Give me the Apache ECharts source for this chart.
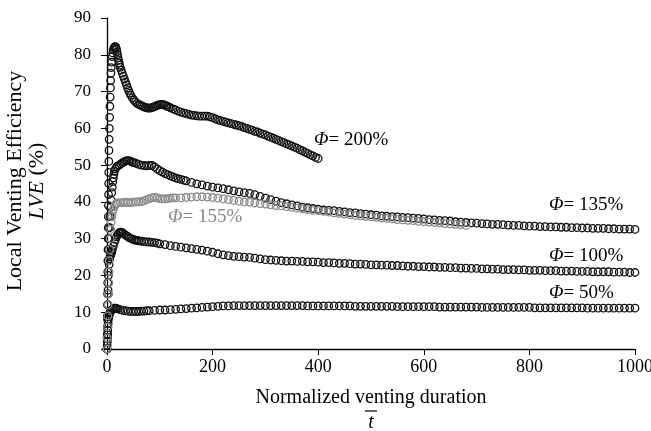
<!DOCTYPE html>
<html><head><meta charset="utf-8">
<script src="https://cdn.jsdelivr.net/npm/echarts@6/dist/echarts.min.js"></script>
<style>html,body{margin:0;padding:0;background:#fff}#c{width:651px;height:431px}</style>
</head><body><div id="c"></div>
<script>
const xAxisRange = [0, 1000, 200];
const yAxisRange = [0, 90, 10];
const seriesNames = ['Φ= 200%', 'Φ= 135%', 'Φ= 155%', 'Φ= 100%', 'Φ= 50%'];

const phi200 = [[0,0],[0.3,3],[0.5,6],[0.7,9],[0.9,12],[1.1,15],[1.3,18],[1.5,21],[1.7,24],[1.9,27],[2.1,30],[2.3,33],[2.5,36],[2.7,39],[2.9,42],[3.1,45],[3.3,48],[3.5,51],[3.8,54],[4.1,57],[4.5,60],[5,63],[5.5,66],[6,68.5],[6.5,71],[7,73],[7.5,75],[8,76.5],[9,78],[10,79.5],[11,80.5],[12,81.3],[13,81.8],[14,82],[15,82.2],[16,82.2],[17,82],[18,81.5],[19,80.8],[20,80],[21,79.2],[22,78.5],[23,77.8],[24,77.2],[25,76.6],[27,75.8],[29,75],[31,74.2],[33,73.4],[35,72.6],[37,71.8],[39,71],[41,70.3],[43,69.6],[45,69],[48,68.3],[51,67.7],[54,67.2],[57,66.8],[60,66.5],[63,66.3],[66,66.1],[69,65.9],[72,65.7],[75,65.6],[78,65.5],[81,65.5],[84,65.6],[87,65.7],[90,65.9],[93,66.1],[96,66.3],[99,66.4],[102,66.5],[105,66.5],[108,66.4],[111,66.2],[114,66],[117,65.8],[120,65.6],[125,65.3],[130,65],[135,64.7],[140,64.4],[145,64.2],[150,64],[155,63.8],[160,63.6],[165,63.5],[170,63.4],[175,63.3],[180,63.3],[185,63.3],[190,63.3],[195,63.1],[200,62.9],[205,62.6],[210,62.3],[215,62.1],[220,61.9],[225,61.7],[230,61.5],[235,61.3],[240,61.1],[245,60.9],[250,60.7],[255,60.5],[260,60.2],[265,60],[270,59.7],[275,59.5],[280,59.2],[285,59],[290,58.7],[295,58.4],[300,58.2],[305,57.9],[310,57.6],[315,57.3],[320,57],[325,56.7],[330,56.4],[335,56.1],[340,55.8],[345,55.5],[350,55.2],[355,54.9],[360,54.6],[365,54.2],[370,53.9],[375,53.5],[380,53.2],[385,52.8],[390,52.5],[395,52.1],[400,51.8]];

const phi135 = [[0,0],[0.5,4],[1,8],[1.5,12],[2,16],[2.5,20],[3,24],[3.5,27],[4,30],[5,33],[6,36],[7,38.5],[8,40.5],[9,42.5],[10,44],[11,45.5],[12,46.5],[13,47.5],[14,48.3],[16,49],[18,49.5],[20,49.7],[23,50],[26,50.3],[29,50.6],[32,50.9],[35,51.1],[38,51.2],[41,51.2],[44,51.1],[47,50.9],[50,50.7],[55,50.5],[60,50.2],[65,50],[70,49.9],[75,49.8],[80,49.9],[85,49.9],[90,49.5],[95,49],[100,48.5],[105,48.1],[110,47.7],[115,47.4],[120,47.1],[125,46.8],[130,46.5],[135,46.3],[140,46.1],[145,45.9],[150,45.7],[160,45.3],[170,44.9],[180,44.6],[190,44.3],[200,44],[210,43.8],[220,43.6],[230,43.3],[240,43],[250,42.7],[260,42.5],[270,42.3],[280,42],[290,41.5],[300,41],[310,40.6],[320,40.2],[330,39.8],[340,39.5],[350,39.2],[360,38.9],[370,38.6],[380,38.4],[390,38.2],[400,38],[410,37.8],[420,37.7],[430,37.6],[440,37.4],[450,37.3],[460,37.1],[470,37],[480,36.8],[490,36.7],[500,36.5],[510,36.4],[520,36.2],[530,36.1],[540,36],[550,35.9],[560,35.8],[570,35.7],[580,35.6],[590,35.5],[600,35.4],[610,35.2],[620,35.1],[630,35],[640,34.9],[650,34.8],[660,34.6],[670,34.5],[680,34.4],[690,34.3],[700,34.2],[710,34.1],[720,34],[730,33.9],[740,33.9],[750,33.8],[760,33.7],[770,33.6],[780,33.6],[790,33.5],[800,33.4],[810,33.4],[820,33.3],[830,33.3],[840,33.2],[850,33.2],[860,33.1],[870,33.1],[880,33],[890,33],[900,32.9],[910,32.9],[920,32.8],[930,32.8],[940,32.8],[950,32.7],[960,32.7],[970,32.6],[980,32.6],[990,32.6],[1000,32.5]];

const phi155 = [[0,0],[0.5,3],[1,6],[1.5,9],[2,12],[2.5,15],[3,18],[3.5,21],[4,24],[5,27],[6,30],[7,32.5],[8,34.5],[9,36],[10,37],[12,38],[14,38.8],[16,39.3],[18,39.6],[20,39.7],[25,39.8],[30,39.8],[35,39.9],[40,39.8],[45,39.8],[50,39.9],[55,40],[60,40],[65,40.1],[70,40.3],[75,40.6],[80,40.9],[85,41.1],[90,41.2],[95,41.1],[100,40.9],[105,40.8],[110,40.8],[115,40.9],[120,41],[125,41.1],[130,41.1],[140,41.1],[150,41.2],[160,41.3],[170,41.4],[180,41.4],[190,41.3],[200,41.2],[210,41],[220,40.8],[230,40.6],[240,40.4],[250,40.2],[260,40],[270,39.9],[280,39.7],[290,39.5],[300,39.4],[310,39.2],[320,39],[330,38.9],[340,38.7],[350,38.5],[360,38.3],[370,38.1],[380,37.9],[390,37.7],[400,37.6],[410,37.4],[420,37.2],[430,37],[440,36.9],[450,36.7],[460,36.5],[470,36.3],[480,36.2],[490,36],[500,35.9],[510,35.8],[520,35.6],[530,35.5],[540,35.4],[550,35.2],[560,35.1],[570,35],[580,34.9],[590,34.7],[600,34.6],[610,34.5],[620,34.4],[630,34.3],[640,34.1],[650,34],[660,33.9],[670,33.8],[680,33.6]];

const phi100 = [[0,0],[0.5,3],[1,6],[1.5,9],[2,12],[2.5,15],[3,18],[3.5,21],[4,23],[5,24.5],[6,25.2],[7,25.6],[8,26],[9,26.5],[10,27],[12,28],[14,29],[16,29.8],[18,30.5],[20,31],[22,31.4],[24,31.7],[26,31.8],[28,31.7],[30,31.5],[33,31.2],[36,30.9],[39,30.6],[42,30.3],[45,30.1],[48,29.9],[51,29.7],[54,29.6],[57,29.5],[60,29.4],[65,29.3],[70,29.2],[75,29.1],[80,29.1],[85,29],[90,28.9],[95,28.8],[100,28.6],[110,28.4],[120,28.1],[130,27.9],[140,27.7],[150,27.5],[160,27.3],[170,27.1],[180,26.9],[190,26.6],[200,26.3],[210,25.9],[220,25.6],[230,25.4],[240,25.2],[250,25.1],[260,25],[270,24.9],[280,24.7],[290,24.5],[300,24.3],[310,24.2],[320,24.1],[330,24],[340,23.9],[350,23.9],[360,23.8],[370,23.8],[380,23.7],[390,23.7],[400,23.6],[410,23.5],[420,23.5],[430,23.4],[440,23.3],[450,23.3],[460,23.2],[470,23.1],[480,23.1],[490,23],[500,22.9],[510,22.9],[520,22.8],[530,22.8],[540,22.7],[550,22.7],[560,22.6],[570,22.5],[580,22.5],[590,22.4],[600,22.4],[610,22.3],[620,22.3],[630,22.2],[640,22.2],[650,22.1],[660,22.1],[670,22],[680,22],[690,21.9],[700,21.9],[710,21.8],[720,21.8],[730,21.7],[740,21.7],[750,21.6],[760,21.6],[770,21.6],[780,21.5],[790,21.5],[800,21.4],[810,21.4],[820,21.4],[830,21.3],[840,21.3],[850,21.3],[860,21.2],[870,21.2],[880,21.2],[890,21.1],[900,21.1],[910,21.1],[920,21],[930,21],[940,21],[950,21],[960,20.9],[970,20.9],[980,20.9],[990,20.8],[1000,20.8]];

const phi50 = [[0,0],[0.3,1],[0.6,2],[0.9,3],[1.2,4],[1.5,5],[1.8,6],[2.2,7],[2.7,8],[3.5,8.8],[4.5,9.4],[5.5,9.8],[6.5,10.1],[8,10.5],[10,10.8],[12,11],[14,11.1],[16,11.1],[18,11],[20,10.9],[25,10.7],[30,10.5],[35,10.4],[40,10.3],[45,10.2],[50,10.2],[55,10.2],[60,10.2],[65,10.3],[70,10.3],[75,10.4],[80,10.4],[90,10.5],[100,10.6],[110,10.6],[120,10.7],[130,10.8],[140,10.9],[150,11],[160,11.1],[170,11.2],[180,11.3],[190,11.4],[200,11.5],[210,11.6],[220,11.7],[230,11.7],[240,11.8],[250,11.8],[260,11.8],[270,11.8],[280,11.8],[290,11.8],[300,11.8],[310,11.8],[320,11.8],[330,11.8],[340,11.8],[350,11.8],[360,11.8],[370,11.8],[380,11.7],[390,11.7],[400,11.7],[410,11.7],[420,11.7],[430,11.7],[440,11.7],[450,11.7],[460,11.7],[470,11.6],[480,11.6],[490,11.6],[500,11.6],[510,11.6],[520,11.6],[530,11.6],[540,11.6],[550,11.5],[560,11.5],[570,11.5],[580,11.5],[590,11.5],[600,11.5],[610,11.5],[620,11.5],[630,11.4],[640,11.4],[650,11.4],[660,11.4],[670,11.4],[680,11.4],[690,11.4],[700,11.4],[710,11.3],[720,11.3],[730,11.3],[740,11.3],[750,11.3],[760,11.3],[770,11.3],[780,11.3],[790,11.3],[800,11.3],[810,11.2],[820,11.2],[830,11.2],[840,11.2],[850,11.2],[860,11.2],[870,11.2],[880,11.2],[890,11.2],[900,11.2],[910,11.1],[920,11.1],[930,11.1],[940,11.1],[950,11.1],[960,11.1],[970,11.1],[980,11.1],[990,11.1],[1000,11.1]];

const FONT = '"Liberation Serif", "Times New Roman", serif';
const BLACK = '#111';
const GRAY = '#8a8a8a';

function sc(name, data, color) {
  return {
    name: name, type: 'scatter', data: data, symbol: 'circle', symbolSize: 7.5,
    itemStyle: { color: 'rgba(255,255,255,0)', borderColor: color, borderWidth: 1.3, opacity: 1 },
    emphasis: { disabled: true }, silent: true
  };
}

const chart = echarts.init(document.getElementById('c'), null, { renderer: 'canvas' });
function lbl(x, y, name, color) {
  const parts = name.split('Φ');
  return {
    type: 'text', x: x, y: y, silent: true,
    style: {
      text: '{i|Φ}' + parts[1], fill: color, font: '19px ' + FONT,
      rich: { i: { fontStyle: 'italic', fontFamily: FONT, fontSize: 19, fill: color, color: color } },
      align: 'left', verticalAlign: 'middle', textAlign: 'left', textVerticalAlign: 'middle'
    }
  };
}

chart.setOption({
  animation: false,
  backgroundColor: '#fff',
  grid: { left: 107, right: 16, top: 18, bottom: 82, containLabel: false, outerBoundsMode: 'none' },
  xAxis: {
    type: 'value', min: xAxisRange[0], max: xAxisRange[1], interval: xAxisRange[2],
    axisLine: { show: true, onZero: false, lineStyle: { color: '#000', width: 1.3 } },
    axisTick: { show: true, inside: false, length: 6, lineStyle: { color: '#000', width: 1 } },
    axisLabel: { color: '#000', fontFamily: FONT, fontSize: 18, margin: 9, formatter: function (v) { return String(v); } },
    splitLine: { show: false }
  },
  yAxis: {
    type: 'value', min: yAxisRange[0], max: yAxisRange[1], interval: yAxisRange[2],
    axisLine: { show: true, onZero: false, lineStyle: { color: '#000', width: 1.3 } },
    axisTick: { show: true, inside: false, length: 6, lineStyle: { color: '#000', width: 1 } },
    axisLabel: { color: '#000', fontFamily: FONT, fontSize: 17, margin: 16 },
    splitLine: { show: false }
  },
  series: [
    sc(seriesNames[0], phi200, BLACK),
    sc(seriesNames[1], phi135, BLACK),
    sc(seriesNames[3], phi100, BLACK),
    sc(seriesNames[4], phi50, BLACK),
    sc(seriesNames[2], phi155, GRAY)
  ],
  graphic: [
    lbl(314, 140, seriesNames[0], '#000'),
    lbl(549, 205, seriesNames[1], '#000'),
    lbl(168, 217, seriesNames[2], GRAY),
    lbl(549, 256, seriesNames[3], '#000'),
    lbl(549, 293, seriesNames[4], '#000'),
    { type: 'text', x: 15, y: 181, rotation: Math.PI / 2, silent: true,
      style: { text: 'Local Venting Efficiency', font: '22px ' + FONT, fill: '#000',
        align: 'center', verticalAlign: 'middle', textAlign: 'center', textVerticalAlign: 'middle' } },
    { type: 'text', x: 37, y: 181, rotation: Math.PI / 2, silent: true,
      style: { text: '{i|LVE} (%)', font: '22px ' + FONT, fill: '#000',
        rich: { i: { fontStyle: 'italic', fontFamily: FONT, fontSize: 22 } },
        align: 'center', verticalAlign: 'middle', textAlign: 'center', textVerticalAlign: 'middle' } },
    { type: 'text', x: 371, y: 398, silent: true,
      style: { text: 'Normalized venting duration', font: '20px ' + FONT, fill: '#000',
        align: 'center', verticalAlign: 'middle', textAlign: 'center', textVerticalAlign: 'middle' } },
    { type: 'text', x: 371, y: 423, silent: true,
      style: { text: 't', font: 'italic 20px ' + FONT, fill: '#000',
        align: 'center', verticalAlign: 'middle', textAlign: 'center', textVerticalAlign: 'middle' } },
    { type: 'line', silent: true, shape: { x1: 365, y1: 411, x2: 377, y2: 411 },
      style: { stroke: '#000', lineWidth: 1.2 } }
  ]
});
</script>
</body></html>
